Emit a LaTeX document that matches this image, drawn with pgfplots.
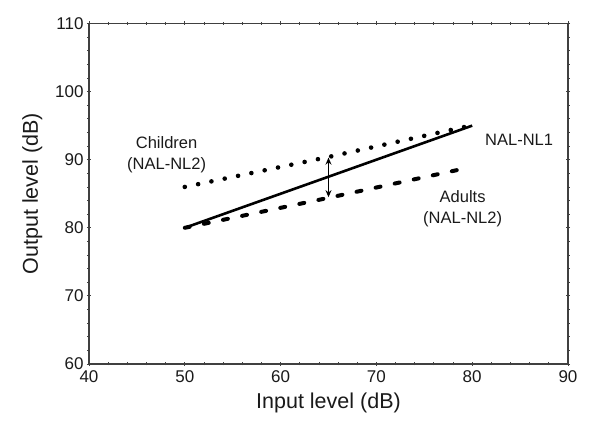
\documentclass[border=0pt]{standalone}
\usepackage{pgfplots}
\pgfplotsset{compat=1.18}
\usetikzlibrary{arrows.meta}
\usepackage{fontspec}
\setmainfont{Liberation Sans}
\definecolor{axgray}{HTML}{404040}
\definecolor{txt}{HTML}{1A1A1A}

\begin{document}
\begin{tikzpicture}
\path[use as bounding box] (-89pt,-72pt) rectangle (511pt,364pt);
\begin{axis}[
    at={(0,0)}, anchor=south west,
    scale only axis,
    width=479pt, height=340.5pt,
    xmin=40, xmax=90, ymin=60, ymax=110,
    xtick={40,50,...,90}, ytick={60,70,...,110},
    minor x tick num=4, minor y tick num=4,
    tick align=center,
    major tick length=4pt, minor tick length=3pt,
    every tick/.style={axgray, line width=0.8pt},
    axis line style={axgray, line width=1.6pt},
    tick label style={font=\fontsize{17}{19}\selectfont, text=txt},
    /pgf/number format/assume math mode=true,
    xticklabel style={yshift=-1pt},
    yticklabel style={xshift=0pt},
    label style={font=\fontsize{21.5}{24}\selectfont, text=txt},
    xlabel={Input level (dB)},
    ylabel={Output level (dB)},
    xlabel style={yshift=-3pt},
    ylabel style={yshift=6pt},
    clip=false,
]
% NAL-NL1
\addplot[black, line width=2.6pt] coordinates {(50,80) (80,95)};
% Children (NAL-NL2)
\addplot[black, line width=4.6pt, line cap=round, dash pattern=on 0pt off 13.6pt]
    coordinates {(50,86) (65,90.4) (79.5,94.9)};
% Adults (NAL-NL2)
\addplot[black, line width=4pt, line cap=round, dash pattern=on 5pt off 14.5pt]
    coordinates {(50,80) (65,84.4) (79.5,88.8)};

\draw[black, line width=1.4pt, {Stealth[length=7pt,width=6pt]}-{Stealth[length=7pt,width=6pt]}] (axis cs:65,84.5) -- (axis cs:65,90.3);

\node[align=center, font=\fontsize{16.5}{21}\selectfont, text=txt] at (axis cs:48.1,90.7) {Children\\(NAL-NL2)};
\node[font=\fontsize{16.5}{21}\selectfont, text=txt] at (axis cs:84.9,92.9) {NAL-NL1};
\node[align=center, font=\fontsize{16.5}{21}\selectfont, text=txt] at (axis cs:79.0,82.8) {Adults\\(NAL-NL2)};
\end{axis}
\end{tikzpicture}
\end{document}
